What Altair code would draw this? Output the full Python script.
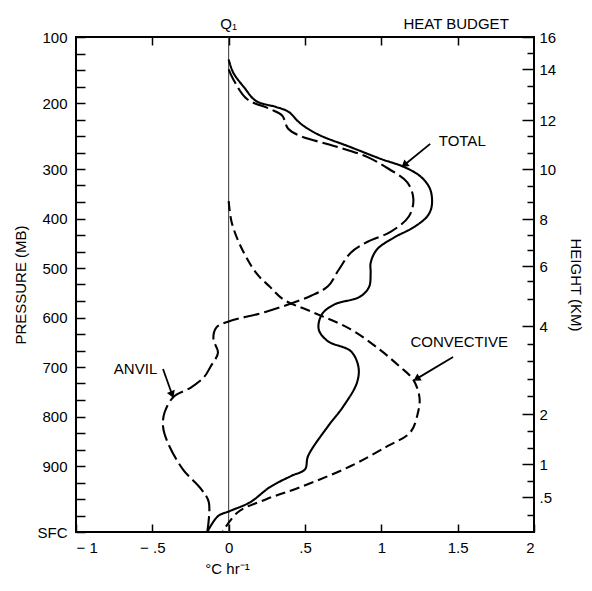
import altair as alt
import pandas as pd

FONT = "Liberation Sans"

# ---------------- data ----------------
# TOTAL heating profile (solid)
total_p = [134, 154, 176, 197, 206, 213, 231, 247, 267, 285, 297, 316, 341, 375, 396, 418, 439, 463, 490,
           510, 538, 558, 574, 594, 624, 648, 668, 700, 732, 780, 820, 880, 905, 915, 932, 955, 968, 976, 1000]
total_q = [0.0, 0.03, 0.10, 0.18, 0.31, 0.39, 0.47, 0.58, 0.80, 1.00, 1.15, 1.26, 1.32, 1.33, 1.30, 1.21, 1.08, 0.97, 0.93,
           0.93, 0.92, 0.86, 0.69, 0.61, 0.59, 0.65, 0.80, 0.85, 0.84, 0.75, 0.65, 0.52, 0.50, 0.41, 0.27, 0.14, 0.01, -0.07, -0.14]

# ANVIL profile (long dashes)
anvil_p = [149, 164, 194, 209, 219, 239, 250, 265, 282, 300, 327, 361, 396, 427, 447, 469, 504, 537, 556, 588,
           608, 620, 644, 671, 700, 720, 742, 760, 792, 820, 852, 905, 935, 955, 1000]
anvil_q = [0.0, 0.03, 0.12, 0.27, 0.35, 0.39, 0.47, 0.69, 0.91, 1.05, 1.17, 1.21, 1.18, 1.06, 0.91, 0.80, 0.72, 0.65, 0.54, 0.25,
           0.0, -0.08, -0.10, -0.07, -0.12, -0.16, -0.25, -0.36, -0.42, -0.43, -0.40, -0.30, -0.18, -0.13, -0.14]

# CONVECTIVE profile (short dashes)
conv_p = [365, 408, 457, 510, 538, 564, 588, 624, 665, 699, 726, 762, 792, 832, 860, 900, 932, 950, 970, 1000]
conv_q = [0.0, 0.02, 0.08, 0.18, 0.27, 0.36, 0.54, 0.80, 0.99, 1.12, 1.21, 1.25, 1.24, 1.19, 1.04, 0.80, 0.47, 0.25, 0.06, -0.04]

# axis ticks
x_ticks = [-1, -0.5, 0, 0.5, 1, 1.5, 2]
x_top_ticks = [-0.5, 0, 0.5, 1, 1.5]
p_ticks = [100, 125, 150, 175, 200, 225, 250, 275, 300, 333.33, 366.67, 400, 433.33, 466.67, 500,
           533.33, 566.67, 600, 633.33, 666.67, 700, 733.33, 766.67, 800, 833.33, 866.67, 900,
           925, 950, 975, 1000]
km_major = [16, 14, 12, 10, 8, 6, 4, 2, 1, 0.5]
km_minor = [15, 13.33, 12.67, 11.33, 10.67, 9.33, 8.67, 7.33, 6.67, 5.5, 4.9,
            3.6, 3.2, 2.8, 2.4, 1.67, 1.33, 0.75, 0.25]

# axis geometry (piecewise pressure and height axes as drawn in the figure)
p_domain = [100, 300, 900, 1000]
p_range = [0, 132, 429, 495]
km_domain = [0, 0.5, 1, 2, 4, 6, 8, 10, 12, 14, 16]
km_range = [495, 460, 427, 377, 289, 229, 182, 132, 83, 32, 0]

# annotations
ann_label = ["TOTAL", "CONVECTIVE", "ANVIL"]
ann_q = [1.53, 1.51, -0.61]
ann_p = [258, 649, 704]
arr_q1 = [1.32, 1.47, -0.43]
arr_p1 = [262, 680, 704]
arr_q2 = [1.15, 1.23, -0.37]
arr_p2 = [294, 724, 756]
arr_angle = [231, 239, 158]

top_label = ["Q\u2081", "HEAT BUDGET"]
top_q = [0, 1.49]

# ---------------- build tables ----------------
rows = []
for name, ps, qs in [("TOTAL", total_p, total_q), ("ANVIL", anvil_p, anvil_q), ("CONVECTIVE", conv_p, conv_q)]:
    for i, (p, q) in enumerate(zip(ps, qs)):
        rows.append({"series": name, "i": i, "p": p, "q": q})
df = pd.DataFrame(rows)

ann_df = pd.DataFrame({"label": ann_label, "q": ann_q, "p": ann_p})
arr_df = pd.DataFrame({"q1": arr_q1, "p1": arr_p1, "q2": arr_q2, "p2": arr_p2, "ang": arr_angle})
top_df = pd.DataFrame({"label": top_label, "q": top_q})
zero_df = pd.DataFrame({"q": [0]})
kmM_df = pd.DataFrame({"km": km_major})
kmm_df = pd.DataFrame({"km": km_minor})

W, H = 458, 495
xs = alt.Scale(domain=[-1, 2], nice=False, zero=False)
yP = alt.Scale(domain=p_domain, range=p_range, nice=False, zero=False)
yK = alt.Scale(domain=km_domain, range=km_range, nice=False, zero=False)

common_axis = dict(domain=False, grid=False, tickColor="black", tickWidth=1.5,
                   labelColor="black", labelFont=FONT, labelFontSize=15,
                   titleFont=FONT, titleFontSize=15, titleFontWeight="normal",
                   titleColor="black", labelOverlap=False)

x_label_expr = ("datum.value == -1 ? '\u2212 1' : datum.value == -0.5 ? '\u2212 .5' : "
                "datum.value == 0 ? '0' : datum.value == 0.5 ? '.5' : datum.value == 1 ? '1' : "
                "datum.value == 1.5 ? '1.5' : '2'")
p_label_expr = "datum.value % 100 == 0 ? (datum.value == 1000 ? 'SFC' : format(datum.value, 'd')) : ''"

lines = alt.Chart(df).mark_line(color="black", strokeWidth=2.1, interpolate="catmull-rom").encode(
    x=alt.X("q:Q", scale=xs, axis=alt.Axis(
        orient="bottom", values=x_ticks, labelExpr=x_label_expr, tickSize=8, offset=-8,
        labelPadding=8, title="\u00b0C hr\u207b\u00b9", titleX=151, titleY=44,
        titleBaseline="middle", titleAlign="center", **common_axis)),
    y=alt.Y("p:Q", scale=yP, axis=alt.Axis(
        orient="left", values=p_ticks, labelExpr=p_label_expr, tickSize=9, offset=-9,
        labelPadding=9, title="PRESSURE (MB)", titleAngle=270, titleX=-65, titleY=247.5,
        titleBaseline="middle", titleAlign="center", **common_axis)),
    strokeDash=alt.StrokeDash("series:N", scale=alt.Scale(
        domain=["TOTAL", "ANVIL", "CONVECTIVE"], range=[[1, 0], [16, 5], [10, 5]]), legend=None),
    detail="series:N",
    order="i:Q",
)

zero_line = alt.Chart(zero_df).mark_rule(color="#333333", strokeWidth=1).encode(
    x=alt.X("q:Q", scale=xs, axis=alt.Axis(
        orient="top", values=x_top_ticks, tickSize=8, offset=-8, labels=False, title=None,
        **common_axis)),
)

km_major_layer = alt.Chart(kmM_df).mark_point(opacity=0).encode(
    y=alt.Y("km:Q", scale=yK, axis=alt.Axis(
        orient="right", values=km_major,
        labelExpr="datum.value == 0.5 ? '.5' : format(datum.value, 'd')",
        tickSize=12, offset=-12, labelPadding=5, title="HEIGHT (KM)", titleAngle=90,
        titleX=53, titleY=247.5, titleBaseline="middle", titleAlign="center", **common_axis)),
)

km_minor_layer = alt.Chart(kmm_df).mark_point(opacity=0).encode(
    y=alt.Y("km:Q", scale=yK, axis=alt.Axis(
        orient="right", values=km_minor, tickSize=7, offset=-7, labels=False, title=None,
        **common_axis)),
)

ann_text = alt.Chart(ann_df).mark_text(font=FONT, fontSize=15, color="black").encode(
    x=alt.X("q:Q", scale=xs, axis=None),
    y=alt.Y("p:Q", scale=yP, axis=None),
    text="label:N",
)

arrows = alt.Chart(arr_df).mark_rule(color="black", strokeWidth=1.8).encode(
    x=alt.X("q1:Q", scale=xs, axis=None), x2="q2:Q",
    y=alt.Y("p1:Q", scale=yP, axis=None), y2="p2:Q",
)

heads = alt.Chart(arr_df).mark_point(shape="triangle-up", filled=True, color="black",
                                     size=70, opacity=1).encode(
    x=alt.X("q2:Q", scale=xs, axis=None),
    y=alt.Y("p2:Q", scale=yP, axis=None),
    angle=alt.Angle("ang:Q", scale=None),
)

top_text = alt.Chart(top_df).mark_text(font=FONT, fontSize=15, color="black").encode(
    x=alt.X("q:Q", scale=xs, axis=None),
    y=alt.value(-13),
    text="label:N",
)

chart = alt.layer(
    zero_line, lines, km_major_layer, km_minor_layer, ann_text, arrows, heads, top_text
).resolve_scale(y="independent").resolve_axis(x="independent", y="independent").properties(
    width=W, height=H,
    autosize=alt.AutoSizeParams(type="none"),
    padding={"left": 68, "top": 29, "right": 50, "bottom": 46},
).configure_view(stroke="black", strokeWidth=2)

chart.save("out.html", embed_options={"renderer": "svg", "actions": False})
